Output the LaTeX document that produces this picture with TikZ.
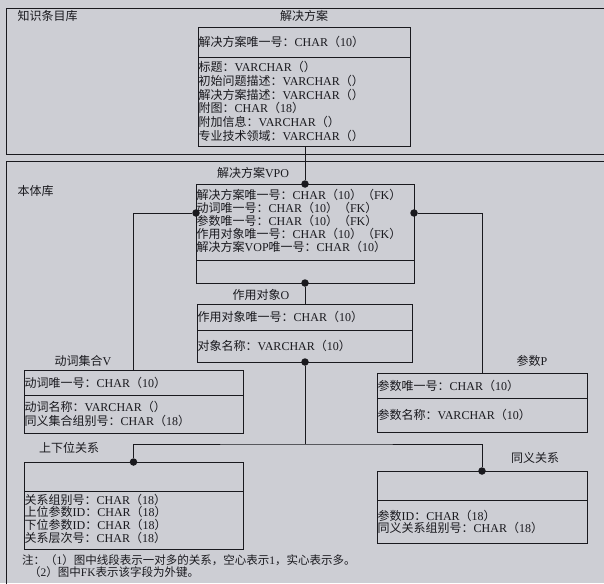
\documentclass[tikz,border=0pt]{standalone}
\usepackage{fontspec}
\setmainfont{Liberation Serif}
\newfontfamily\cjk{Noto Sans CJK SC}
\newcommand\zh[1]{{\cjk #1}}
\definecolor{bg}{RGB}{205,206,212}
\definecolor{ink}{RGB}{25,25,30}
\begin{document}
\begin{tikzpicture}[x=1pt,y=-1pt,
  txt/.style={inner sep=0.5pt, anchor=base west, text=ink, font=\fontsize{12}{13}\selectfont},
  ttl/.style={txt, anchor=base},
  note/.style={txt, inner sep=0pt, font=\fontsize{11.5}{12}\selectfont},
  tbl/.style={draw=ink, line width=1pt, anchor=north west, inner sep=0pt, outer sep=0pt},
  dot/.style={circle, fill=ink, inner sep=0pt, minimum size=7.5pt},
  link/.style={draw=ink, line width=1pt}]
\useasboundingbox (0,0) rectangle (604,583);
\fill[bg] (0,0) rectangle (604,583);
% frames
\draw[link] (610,9) -- (6,9) -- (6,154) -- (610,154);
\draw[link] (610,161) -- (6,161) -- (6,590);
\node[txt] (lib1) at (17,21) {\zh{知识条目库}};
\node[txt] (lib2) at (17,195) {\zh{本体库}};
% solution table
\node[ttl] (St) at (304,21) {\zh{解决方案}};
\node[tbl, minimum width=212pt, minimum height=30pt] (Sh) at (198,28) {};
\node[tbl, minimum width=212pt, minimum height=88pt] (Sb) at (198,58) {};
\node[txt] (S0) at (198,47) {\zh{解决方案唯一号：}CHAR\zh{（}10\zh{）}};
\foreach \t [count=\i] in {
  {\zh{标题：}VARCHAR\zh{（）}},
  {\zh{初始问题描述：}VARCHAR\zh{（）}},
  {\zh{解决方案描述：}VARCHAR\zh{（）}},
  {\zh{附图：}CHAR\zh{（}18\zh{）}},
  {\zh{附加信息：}VARCHAR\zh{（）}},
  {\zh{专业技术领域：}VARCHAR\zh{（）}}}
  \node[txt] (S\i) at (198,{72+13.6*(\i-1)}) {\t};
% VPO table
\node[ttl] (Vt) at (253,177) {\zh{解决方案}VPO};
\node[tbl, minimum width=218pt, minimum height=76pt] (VPOh) at (196,184) {};
\node[tbl, minimum width=218pt, minimum height=23pt] (VPOb) at (196,260) {};
\foreach \t [count=\i] in {
  {\zh{解决方案唯一号：}CHAR\zh{（}10\zh{）（}FK\zh{）}},
  {\zh{动词唯一号：}CHAR\zh{（}10\zh{）（}FK\zh{）}},
  {\zh{参数唯一号：}CHAR\zh{（}10\zh{）（}FK\zh{）}},
  {\zh{作用对象唯一号：}CHAR\zh{（}10\zh{）（}FK\zh{）}},
  {\zh{解决方案}VOP\zh{唯一号：}CHAR\zh{（}10\zh{）}}}
  \node[txt] (R\i) at (196,{199+13.2*(\i-1)}) {\t};
% object table
\node[ttl] (Ot) at (261,299) {\zh{作用对象}O};
\node[tbl, minimum width=215pt, minimum height=26pt] (Oh) at (197,304) {};
\node[tbl, minimum width=215pt, minimum height=32pt] (Ob) at (197,330) {};
\node[txt] (O1) at (197,321) {\zh{作用对象唯一号：}CHAR\zh{（}10\zh{）}};
\node[txt] (O2) at (197,350) {\zh{对象名称：}VARCHAR\zh{（}10\zh{）}};
% verb table
\node[ttl] (Vbt) at (83,365) {\zh{动词集合}V};
\node[tbl, minimum width=219pt, minimum height=25pt] (Vh) at (24,370) {};
\node[tbl, minimum width=219pt, minimum height=38pt] (Vb) at (24,395) {};
\node[txt] (V1) at (24,387) {\zh{动词唯一号：}CHAR\zh{（}10\zh{）}};
\node[txt] (V2) at (24,411) {\zh{动词名称：}VARCHAR\zh{（）}};
\node[txt] (V3) at (24,425) {\zh{同义集合组别号：}CHAR\zh{（}18\zh{）}};
% parameter table
\node[ttl] (Pt) at (532,365) {\zh{参数}P};
\node[tbl, minimum width=210pt, minimum height=25pt] (Ph) at (377,373) {};
\node[tbl, minimum width=210pt, minimum height=34pt] (Pb) at (377,398) {};
\node[txt] (P1) at (377,390) {\zh{参数唯一号：}CHAR\zh{（}10\zh{）}};
\node[txt] (P2) at (377,419) {\zh{参数名称：}VARCHAR\zh{（}10\zh{）}};
% hypernym table
\node[ttl] (Ht) at (69,452) {\zh{上下位关系}};
\node[tbl, minimum width=219pt, minimum height=29pt] (Hh) at (24,462) {};
\node[tbl, minimum width=219pt, minimum height=58pt] (Hb) at (24,491) {};
\foreach \t [count=\i] in {
  {\zh{关系组别号：}CHAR\zh{（}18\zh{）}},
  {\zh{上位参数}ID\zh{：}CHAR\zh{（}18\zh{）}},
  {\zh{下位参数}ID\zh{：}CHAR\zh{（}18\zh{）}},
  {\zh{关系层次号：}CHAR\zh{（}18\zh{）}}}
  \node[txt] (H\i) at (24,{504+12.7*(\i-1)}) {\t};
% synonym table
\node[ttl] (Tt) at (535,462) {\zh{同义关系}};
\node[tbl, minimum width=210pt, minimum height=29pt] (Th) at (377,471) {};
\node[tbl, minimum width=210pt, minimum height=43pt] (Tb) at (377,500) {};
\node[txt] (T1) at (377,520) {\zh{参数}ID\zh{：}CHAR\zh{（}18\zh{）}};
\node[txt] (T2) at (377,532) {\zh{同义关系组别号：}CHAR\zh{（}18\zh{）}};
% notes
\node[note] (N1) at (22,564) {\zh{注：（}1\zh{）图中线段表示一对多的关系，空心表示}1\zh{，实心表示多。}};
\node[note] (N2) at (29,576.5) {\zh{（}2\zh{）图中}FK\zh{表示该字段为外键。}};
% dots
\node[dot] (d1) at (305,184) {};
\node[dot] (d2) at (196,213) {};
\node[dot] (d3) at (414,213) {};
\node[dot] (d4) at (305,283) {};
\node[dot] (d5) at (305,362) {};
\node[dot] (d6) at (Hh.north) {};
\node[dot] (d7) at (Th.north) {};
\coordinate (j) at (305,444);
% connectors
\draw[link] (Sb.south -| d1) -- (d1);
\draw[link] (d2) -| (Vh.north);
\draw[link] (d3) -| (Ph.north);
\draw[link] (d4) -- (Oh.north -| d4);
\draw[link] (d5) -- (j);
\draw[link] (d6) |- (j) -| (d7);
\end{tikzpicture}
\end{document}
